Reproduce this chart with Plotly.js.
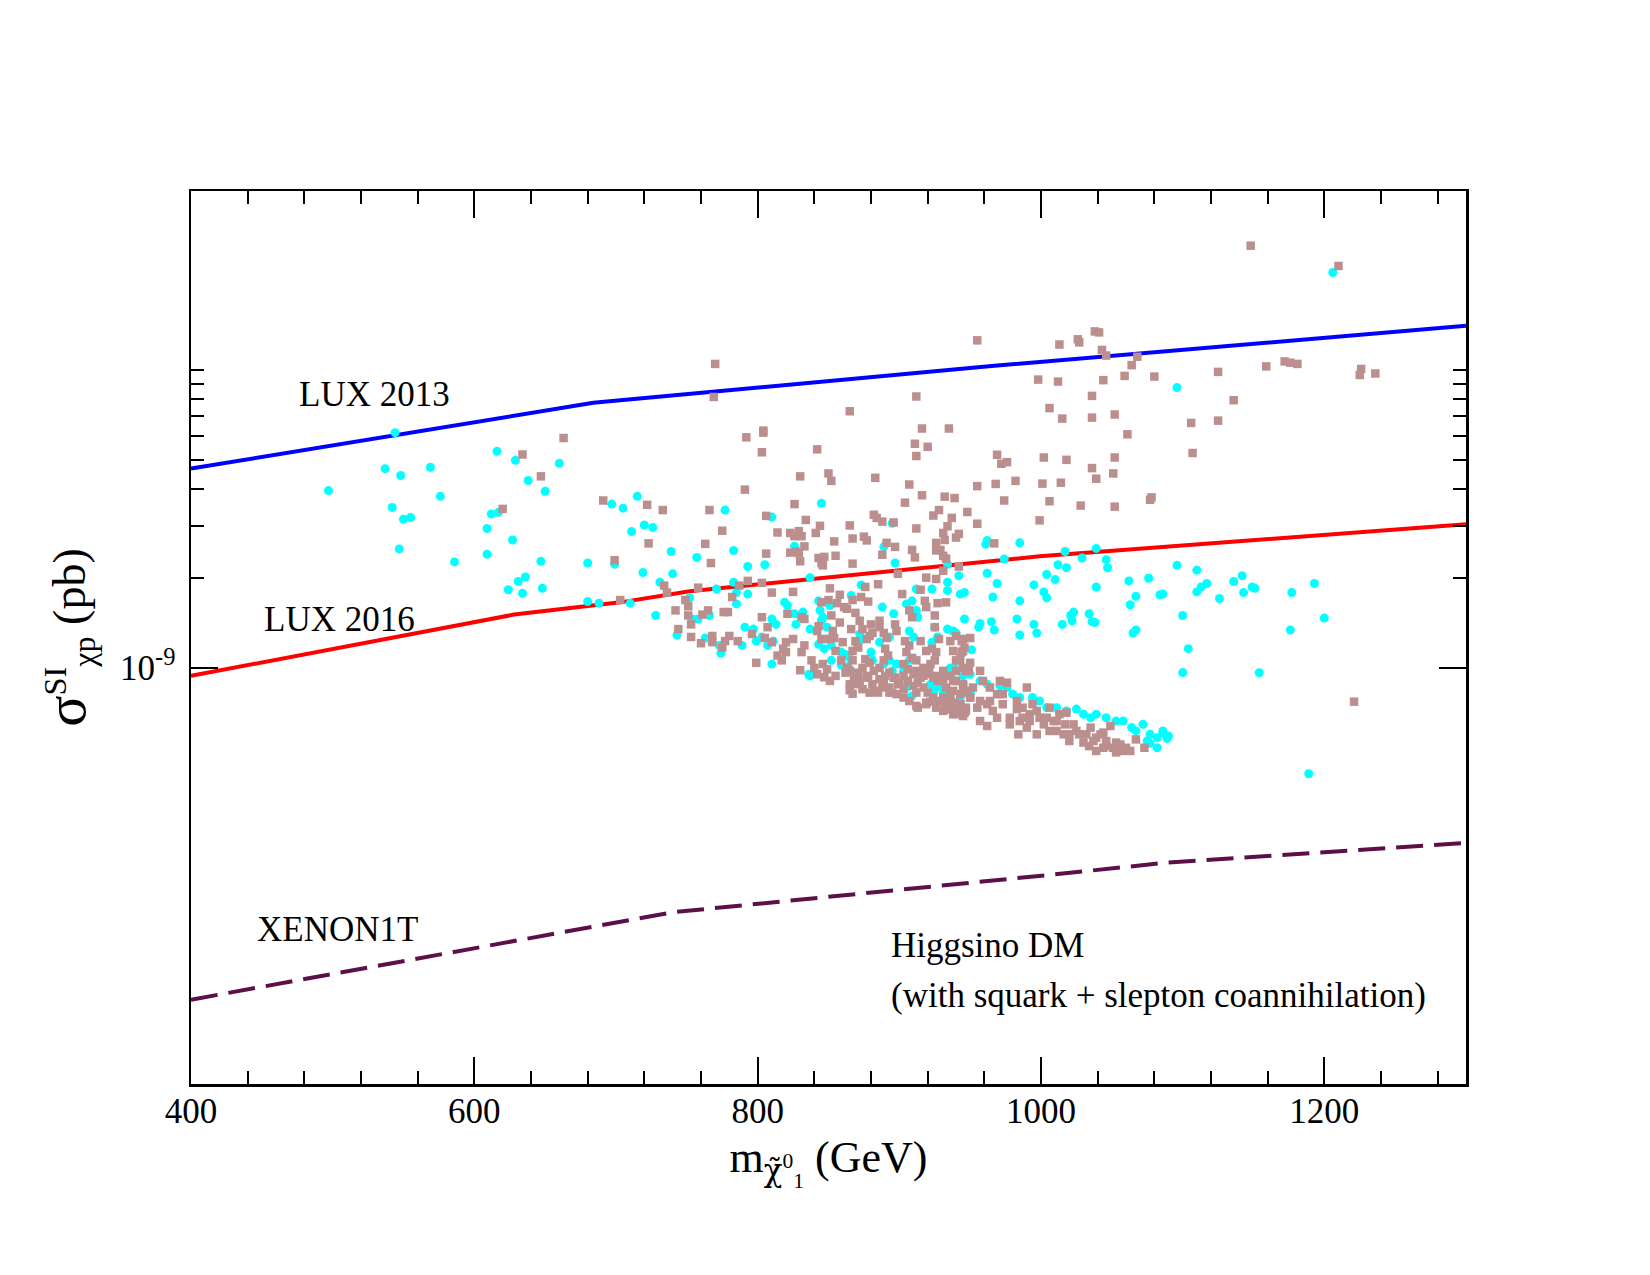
<!DOCTYPE html>
<html>
<head>
<meta charset="utf-8">
<script src="https://cdn.plot.ly/plotly-3.0.1.min.js"></script>
<style>html,body{margin:0;padding:0;background:#fff;}</style>
</head>
<body>
<div id="chart" style="width:1650px;height:1275px;"></div>
<script>
// ---- data (mass in GeV, cross section in units of 1e-9 pb) ----
const sigmaUnit = 1e-9;

const lux2013Mass = [400, 684, 967, 1300];
const lux2013Sigma = [4.67, 7.77, 10.35, 14.1];

const lux2016Mass = [400, 561, 628, 703, 752, 999, 1300];
const lux2016Sigma = [0.94, 1.31, 1.51, 1.66, 1.81, 2.37, 3.04];

const xenon1tMass = [400, 740, 1008, 1090, 1300];
const xenon1tSigma = [0.0768, 0.151, 0.202, 0.222, 0.258];

const xMajorTicks = [400, 600, 800, 1000, 1200];
const xMinorTicks = [440,480,520,560,640,680,720,760,840,880,920,960,1040,1080,1120,1160,1240,1280];
const yMajorTicks = [1e-9];
const yMajorLabels = ['10<sup>-9</sup>'];
const yMinorTicks = [2e-9,3e-9,4e-9,5e-9,6e-9,7e-9,8e-9,9e-9,1e-8];

// cyan points [mass, sigma/1e-9 pb]
const cyanPoints = [
[497,3.94],[544,6.17],[537,4.67],[548,4.43],[569,4.72],[576,3.77],[542,3.46],[550,3.16],[555,3.20],[547,2.51],[586,2.27],[616,5.34],[629,4.98],[638,4.26],[650,3.92],[660,4.87],[612,3.29],[617,3.33],[609,2.94],[627,2.69],[609,2.41],[647,2.28],[636,2.02],[631,1.95],[624,1.83],[634,1.78],[648,1.85],[680,2.25],[697,3.55],[705,3.44],[715,3.77],[711,2.87],[720,3.02],[726,2.96],[699,2.23],[719,2.09],[731,1.94],[680,1.67],[688,1.65],[710,1.65],[728,1.50],
[845,3.57],[777,3.39],[810,3.21],[895,3.06],[739,2.46],[757,2.35],[783,2.48],[826,2.56],[889,2.55],[897,2.25],[793,2.19],[805,2.22],[740,2.07],[837,2.01],[783,1.94],[934,2.23],
[743,1.29],[752,1.72],[754,1.46],[758,1.46],[766,1.50],[771,1.84],[763,1.26],[773,1.19],[774,1.12],[785,1.79],[785,1.64],[793,1.77],[791,1.37],[797,1.35],[799,1.23],[803,1.27],[811,1.23],[807,1.19],[810,1.03],[789,1.19],[810,1.46],[813,1.40],[819,1.66],[821,1.62],[826,1.52],[827,1.40],[832,1.54],[830,1.50],[837,1.35],[836,0.95],[837,0.94],[843,1.20],[847,1.16],[852,1.19],[849,1.25],[843,1.68],[844,1.56],[846,1.48],[845,1.44],[851,1.62],[849,1.37],[852,1.06],[859,1.13],[862,1.11],[865,1.08],[859,1.02],[864,1.01],[866,1.75],[873,1.90],[872,1.30],[874,1.25],[870,1.20],[881,1.06],[880,1.13],[888,1.60],[896,1.52],[886,1.22],[893,1.27],[905,1.64],[909,1.68],[912,1.56],[913,1.48],[907,1.33],[910,1.27],[912,1.84],[923,1.84],[934,1.94],[934,1.82],[942,2.04],[943,1.77],[946,1.79],[925,1.37],[927,1.27],[923,1.22],[934,1.35],[938,1.33],[940,1.31],[946,1.46],[937,0.977],[939,1.00],[922,0.88],[926,0.86],[924,0.83],[931,0.82],[905,0.86],[909,0.805],[889,1.03],[893,1.06],[895,0.977],[898,1.03],[903,0.977],[907,1.06],[926,0.904],[931,0.86],[936,0.82],[940,0.904],[945,0.82],
[962,2.08],[969,1.92],[966,1.73],[985,1.68],[995,1.90],[1004,2.06],[1010,1.98],[1002,1.80],[1004,1.72],[1012,2.22],[1018,2.17],[1039,1.87],[1047,2.17],[1062,1.96],[1076,2.00],[1067,1.74],[1063,1.63],[1084,1.76],[1086,1.77],[1096,2.21],[1110,2.13],[1110,1.80],[957,1.41],[956,1.37],[965,1.43],[967,1.34],[983,1.46],[985,1.29],[995,1.40],[997,1.31],[1015,1.40],[1021,1.50],[1023,1.54],[1022,1.44],[1034,1.52],[1036,1.43],[1038,1.42],[1067,1.34],[1065,1.31],[1100,1.50],[1104,1.16],[1100,0.964],[943,1.10],[951,1.15],
[936,1.00],[940,0.977],[945,0.940],[950,0.952],[957,0.904],[962,0.881],[971,0.870],[976,0.859],[980,0.816],[985,0.795],[994,0.795],[999,0.774],[1004,0.735],[1011,0.735],[1018,0.717],[1025,0.727],[1030,0.699],[1035,0.680],[1039,0.699],[1046,0.680],[1053,0.663],[1058,0.663],[1064,0.630],[1067,0.614],[1072,0.646],[1077,0.598],[1082,0.583],[1086,0.614],[1090,0.590],[1075,0.568],[1082,0.539],[943,0.774],[950,0.826],
[1096,8.74],[962,2.68],[961,2.60],[985,2.63],[974,2.32],[1017,2.46],[1039,2.52],[1029,2.34],[1046,2.31],[1142,2.04],
[1206,21.3],[1113,1.87],[1117,1.92],[1126,1.71],[1136,1.95],[1143,1.79],[1149,1.87],[1151,1.85],[1177,1.79],[1193,1.92],[1200,1.47],[1176,1.34],[1154,0.963],[1189,0.441],[1086,0.604],[1089,0.579],[1077,0.558]
];

// rosy-brown points [mass, sigma/1e-9 pb]
const brownPoints = [
[663,5.92],[634,5.21],[647,4.40],[620,3.42],[691,3.65],[722,3.53],[723,2.62],[699,2.30],[703,1.69],
[769,8.13],[912,8.16],[865,7.28],[916,6.37],[935,6.37],[792,5.95],[804,6.17],[803,5.30],[842,5.42],[911,5.66],[920,5.53],[912,5.15],[830,4.40],[850,4.50],[852,4.25],[883,4.35],[907,4.13],[916,3.80],[932,3.76],[791,3.97],[733,3.39],[766,3.39],[826,3.55],[904,3.59],[928,3.39],[924,3.25],[806,3.24],[834,3.14],[882,3.27],[884,3.19],[888,3.10],[896,3.08],[865,3.01],[912,2.94],[934,2.99],[775,2.89],[814,2.85],[844,3.00],[841,2.84],[823,2.84],[829,2.88],[826,2.77],[831,2.77],[931,2.84],[867,2.72],[875,2.76],[877,2.68],[854,2.66],[891,2.63],[897,2.55],[926,2.63],[932,2.69],[763,2.61],[833,2.56],[823,2.44],[827,2.46],[829,2.43],[806,2.42],[909,2.49],[911,2.35],[926,2.48],[929,2.49],[931,2.38],[933,2.33],[888,2.40],[855,2.38],[843,2.34],[847,2.36],[845,2.25],[846,2.21],[830,2.28],[767,2.25],[867,2.24],[899,2.07],
[734,1.89],[736,1.79],[758,1.86],[749,1.69],[751,1.61],[742,1.56],[751,1.50],[753,1.40],[744,1.35],[753,1.27],[760,1.21],[761,1.51],[765,1.56],[776,1.54],[779,1.54],[782,1.73],[787,1.89],[793,1.96],[803,1.93],[810,1.79],[825,1.80],[803,1.48],[807,1.37],[796,1.30],[768,1.28],[768,1.22],[780,1.28],[777,1.23],[775,1.17],[786,1.23],[805,1.26],[810,1.22],[820,1.22],[825,1.25],[818,1.16],[820,1.13],[814,1.10],[817,1.06],[831,1.13],[833,1.19],[821,1.52],[831,1.48],[833,1.46],[799,1.04],[830,0.982],[838,1.06],[840,1.00],[846,1.03],[849,0.99],[847,0.93],[845,1.66],[850,1.69],[856,1.65],[852,1.50],[858,1.42],[843,1.38],[842,1.33],[851,1.85],[858,1.76],[861,1.60],[863,1.58],[867,1.69],[869,1.53],[873,1.73],[878,1.67],[876,1.87],[885,1.91],[853,1.33],[854,1.26],[851,1.25],[845,1.25],[860,1.22],[866,1.35],[869,1.23],[871,1.17],[867,1.14],[872,1.44],[874,1.35],[880,1.40],[881,1.31],[886,1.37],[886,1.44],[889,1.31],[891,1.26],[897,1.40],[898,1.33],[877,1.25],[879,1.28],[862,0.964],[865,0.841],[867,0.819],[871,0.882],[874,0.848],[879,0.826],[883,0.837],[885,0.826],[895,0.826],[912,0.745],[913,0.735],[919,0.764],[922,0.770],[936,0.726],[939,0.699],[943,0.707],[925,1.50],[925,1.37],[927,1.65],[928,1.25],[933,1.66],[918,1.68],[919,1.60],[907,1.56],[909,1.48],[902,1.77],[915,1.83],[926,1.99],[931,2.12],[919,2.01],
[904,1.23],[907,1.19],[905,1.13],[909,1.08],[912,1.06],[903,1.03],[906,0.99],[910,0.952],[915,0.927],[915,1.23],[919,1.14],[923,1.16],[926,1.13],[925,1.06],[922,1.03],[917,1.00],[920,0.952],[924,0.927],[927,0.904],[931,0.916],[940,1.28],[944,1.23],[946,1.17],[944,1.13],[940,1.06],[945,1.00],[949,0.977],[876,1.07],[879,1.04],[874,1.00],[871,0.964],[877,0.940],[882,0.977],[886,1.00],[889,1.06],[892,1.10],[890,1.16],[896,0.927],[899,0.881],[889,0.904],[893,0.859],[903,0.848],[931,0.795],[936,0.774],[943,0.755],[947,0.735],[950,0.795],[933,0.859],[938,0.837],
[945,1.25],[950,1.26],[936,1.23],[938,1.14],[945,1.14],[943,1.06],[950,1.04],[940,0.977],[947,0.977],[957,0.977],[938,0.904],[945,0.881],[952,0.859],[959,0.904],[936,0.816],[943,0.816],[950,0.795],[957,0.774],[940,0.735],[947,0.717],[955,0.735],[938,0.699],[945,0.689],
[964,0.859],[971,0.904],[976,0.892],[969,0.816],[962,0.755],[966,0.717],[973,0.755],[978,0.680],[957,0.663],[962,0.638],[983,0.774],[987,0.735],[992,0.699],[985,0.663],[990,0.630],[984,0.598],[994,0.755],[999,0.680],[997,0.598],[1002,0.646],[1006,0.735],[1009,0.663],[1013,0.699],[1011,0.614],[1016,0.598],[1018,0.707],[1023,0.646],[1020,0.568],[1027,0.598],[1030,0.561],
[1035,0.630],[1037,0.568],[1042,0.598],[1039,0.526],[1046,0.568],[1049,0.638],[1051,0.539],[1056,0.553],[1053,0.520],[1058,0.526],[1063,0.526],[1067,0.575],[1073,0.539],[990,0.859],[1044,0.606],
[865,0.977],[868,0.940],[872,0.904],[878,0.927],[881,0.881],[886,0.916],[890,0.940],[893,0.964],[897,0.927],[900,0.892],[903,0.940],[906,0.904],[910,0.870],[913,0.892],[917,0.859],[920,0.826],[924,0.795],[928,0.774],[932,0.755],[936,0.735],[939,0.764],[943,0.735],[946,0.707],[912,0.977],[917,0.940],[921,0.977],[926,0.940],[931,0.977],[936,0.940],[940,0.904],[945,0.870],[948,0.837],[888,0.859],[893,0.826],[898,0.816],[903,0.795],[907,0.774],[912,0.826],[919,0.755],[926,0.735],[931,0.717],
[964,0.774],[973,0.816],[983,0.727],[992,0.663],[997,0.717],[1004,0.680],[1011,0.663],[1017,0.646],[1025,0.614],[1032,0.598],[1039,0.583],[1046,0.546],[1053,0.561],[1060,0.539],[969,0.680],[978,0.646],[987,0.680],[1006,0.614],[1020,0.598],[1034,0.546],[1044,0.539],
[855,1.14],[859,1.06],[863,1.00],[867,1.06],[870,0.952],[855,0.940],[865,0.881],[851,0.904],[842,0.952],
[955,12.6],[1013,12.2],[1026,12.7],[1027,12.4],[1038,13.5],[1041,13.4],[1043,11.7],[1046,11.2],[1068,11.1],[1064,10.4],[1059,9.57],[1080,9.52],[1125,9.87],[1136,7.93],[998,9.30],[1012,9.16],[1044,9.26],[1036,8.20],[1006,7.46],[1015,6.88],[1036,6.93],[1052,7.10],[1106,6.65],[1125,6.77],[1061,6.09],[1107,5.27],[969,5.20],[972,4.85],[976,4.91],[1002,5.09],[1018,5.00],[1052,5.09],[1036,4.69],[1039,4.32],[1051,4.50],[939,3.72],[955,4.08],[968,4.15],[982,4.25],[1001,4.16],[1014,4.19],[974,3.65],[1006,3.63],[1028,3.51],[1052,3.48],[1077,3.67],[1078,3.74],[948,3.34],[937,3.19],[955,3.05],[999,3.13],[942,2.82],[940,2.74],[967,2.62],[942,2.19],
[1148,26.2],[1210,22.4],[1159,10.3],[1172,10.7],[1176,10.6],[1181,10.5],[1226,10.1],[1225,9.64],[1236,9.75],[1221,0.770],
[770,10.5],[804,6.27]
];

// ---- chart ----
const serif = 'Liberation Serif, Times New Roman, serif';
const toSigma = arr => arr.map(v => v * sigmaUnit);

const traces = [
  {type:'scatter', mode:'lines', x:lux2013Mass, y:toSigma(lux2013Sigma),
   line:{color:'#0000ff', width:4}, hoverinfo:'skip'},
  {type:'scatter', mode:'lines', x:lux2016Mass, y:toSigma(lux2016Sigma),
   line:{color:'#ff0000', width:4}, hoverinfo:'skip'},
  {type:'scatter', mode:'lines', x:xenon1tMass, y:toSigma(xenon1tSigma),
   line:{color:'#5c0f48', width:4, dash:'27px,11px'}, hoverinfo:'skip'},
  {type:'scatter', mode:'markers', x:cyanPoints.map(p=>p[0]), y:cyanPoints.map(p=>p[1]*sigmaUnit),
   marker:{symbol:'circle', size:9, color:'#00ffff', line:{width:0}}, hoverinfo:'skip'},
  {type:'scatter', mode:'markers', x:brownPoints.map(p=>p[0]), y:brownPoints.map(p=>p[1]*sigmaUnit),
   marker:{symbol:'square', size:8.5, color:'#bc8f8f', line:{width:0}}, hoverinfo:'skip'}
];

const layout = {
  width:1650, height:1275,
  margin:{l:191, r:184, t:191, b:191},
  paper_bgcolor:'#ffffff', plot_bgcolor:'#ffffff',
  showlegend:false,
  font:{family:serif, color:'#000', size:35},
  xaxis:{
    range:[400,1300], tickmode:'array', tickvals:xMajorTicks,
    ticks:'inside', ticklen:27, tickwidth:2, tickcolor:'#000',
    showline:true, linecolor:'#000', linewidth:2.5, mirror:'ticks',
    showgrid:false, zeroline:false, automargin:false,
    tickfont:{family:serif, size:35, color:'#000'},
    ticklabelstandoff:-6,
    minor:{tickmode:'array', tickvals:xMinorTicks, ticks:'inside', ticklen:13, tickwidth:2, tickcolor:'#000', showgrid:false},
    title:{text:'m<sub><span style="font-family:DejaVu Serif">χ̃</span><sup>0</sup><sub>1</sub></sub> (GeV)', font:{family:serif, size:44, color:'#000'}, standoff:12}
  },
  yaxis:{
    type:'log', range:[Math.log10(4e-11), Math.log10(4e-8)],
    tickmode:'array', tickvals:yMajorTicks, ticktext:yMajorLabels,
    ticks:'inside', ticklen:27, tickwidth:2, tickcolor:'#000',
    showline:true, linecolor:'#000', linewidth:2.5, mirror:'ticks',
    showgrid:false, zeroline:false, automargin:false,
    tickfont:{family:serif, size:35, color:'#000'},
    ticklabelstandoff:6,
    minor:{tickmode:'array', tickvals:yMinorTicks, ticks:'inside', ticklen:13, tickwidth:2, tickcolor:'#000', showgrid:false},
    title:{text:'<span style="font-size:58px">σ</span><sup>SI</sup><sub>χp</sub> (pb)', font:{family:serif, size:46, color:'#000'}, standoff:20}
  },
  annotations:[
    {text:'LUX 2013', x:475, y:-8.083, xref:'x', yref:'y', xanchor:'left', yanchor:'middle', showarrow:false, font:{family:serif, size:35, color:'#000'}},
    {text:'LUX 2016', x:450, y:-8.838, xref:'x', yref:'y', xanchor:'left', yanchor:'middle', showarrow:false, font:{family:serif, size:35, color:'#000'}},
    {text:'XENON1T', x:445, y:-9.879, xref:'x', yref:'y', xanchor:'left', yanchor:'middle', showarrow:false, font:{family:serif, size:35, color:'#000'}},
    {text:'Higgsino DM', x:893, y:-9.933, xref:'x', yref:'y', xanchor:'left', yanchor:'middle', showarrow:false, font:{family:serif, size:35, color:'#000'}},
    {text:'(with squark + slepton coannihilation)', x:893, y:-10.099, xref:'x', yref:'y', xanchor:'left', yanchor:'middle', showarrow:false, font:{family:serif, size:35, color:'#000'}}
  ]
};

Plotly.newPlot('chart', traces, layout, {displayModeBar:false, staticPlot:true});
</script>
</body>
</html>
